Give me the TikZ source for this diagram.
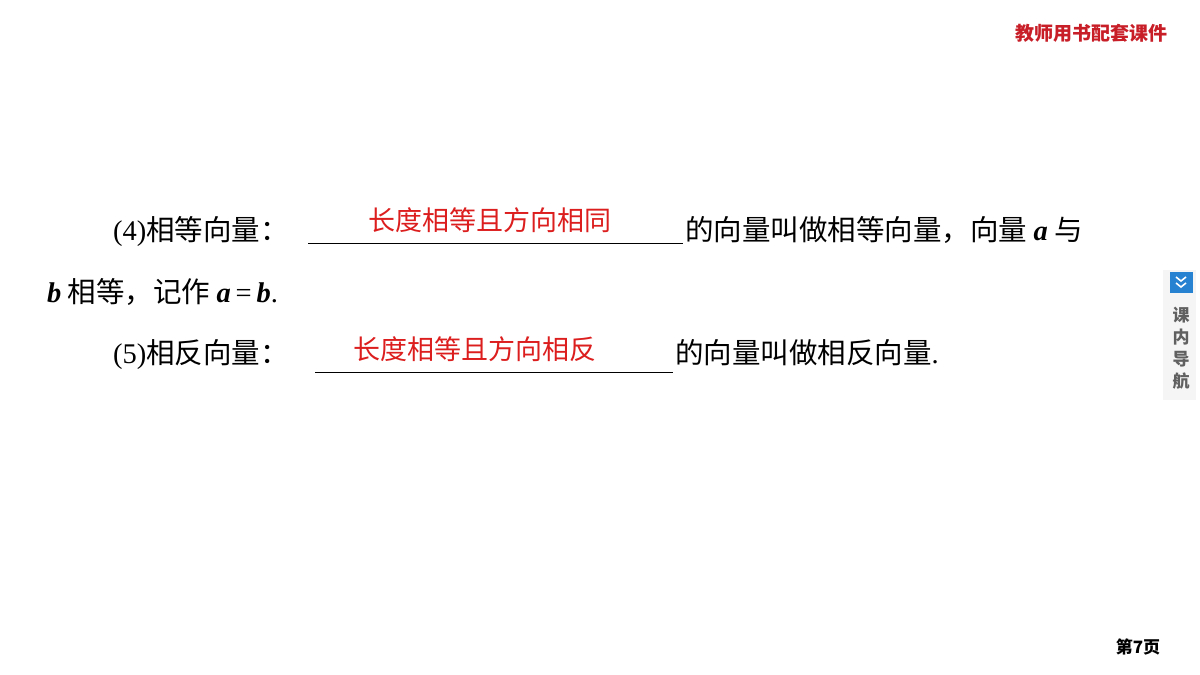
\documentclass[tikz,border=0pt]{standalone}
\usepackage{fontspec}
\setmainfont{Liberation Serif}
\newfontfamily\cjk{Noto Sans CJK SC}
\definecolor{ansred}{RGB}{220,30,30}
\definecolor{hdrred}{RGB}{200,30,40}
\definecolor{tabblue}{RGB}{40,130,210}
\newcommand{\lat}[1]{{\rmfamily #1}}
\newcommand{\vb}[1]{{\rmfamily\bfseries\itshape #1}}
\begin{document}
\begin{tikzpicture}[x=1pt,y=-1pt,
  body/.style={inner sep=0,anchor=base west,font=\fontsize{28.5}{30}\selectfont\cjk},
  ans/.style={inner sep=0,anchor=base,text=ansred,font=\fontsize{27}{30}\selectfont\cjk},
  uline/.style={line width=0.8pt,black}]
\fill[white] (0,0) rectangle (1200,675);
\useasboundingbox (0,0) rectangle (1200,675);
% header
\node[inner sep=0,anchor=base east,text=hdrred,font=\fontsize{19}{20}\selectfont\cjk\bfseries] (hdr) at (1168,40) {教师用书配套课件};
% side tab
\fill[gray!8] (1163,270) rectangle (1196,400);
\fill[tabblue] (1170,272) rectangle (1193,293);
\draw[white,line width=1.6pt] (1176,277) -- (1181,281) -- (1186,277) (1176,283) -- (1181,287) -- (1186,283);
\node[inner sep=0,align=center,text=gray!75!black,font=\fontsize{17}{22}\selectfont\cjk\bfseries] (tab) at (1181,348) {课\\内\\导\\航};
% line 1
\node[body] (l1a) at (113,240) {\lat{(4)}相等向量：};
\draw[uline] (308,243) coordinate (u1s) -- (683,243) coordinate (u1e);
\node[ans] (a1) at (490,230) {长度相等且方向相同};
\node[body] (l1b) at (685,240) {的向量叫做相等向量，向量 \vb{a} 与};
% line 2
\node[body] (l2) at (47,302) {\vb{b} 相等，记作 \vb{a}\lat{\,=\,}\vb{b}\lat{.}};
% line 3
\node[body] (l3a) at (113,363) {\lat{(5)}相反向量：};
\draw[uline] (315,372) coordinate (u2s) -- (673,372) coordinate (u2e);
\node[ans] (a2) at (475,359) {长度相等且方向相反};
\node[body] (l3b) at (675,363) {的向量叫做相反向量\lat{.}};
% page number
\node[inner sep=0,anchor=base,font=\fontsize{17}{18}\selectfont\cjk\bfseries] (pg) at (1138,653) {第7页};
\end{tikzpicture}
\end{document}
